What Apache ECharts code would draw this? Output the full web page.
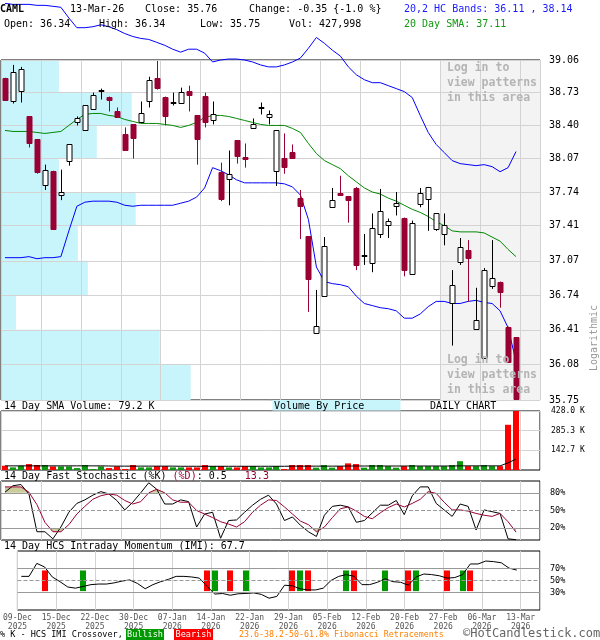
<!DOCTYPE html>
<html><head><meta charset="utf-8">
<script src="https://cdn.jsdelivr.net/npm/echarts@6/dist/echarts.min.js"></script>
<style>html,body{margin:0;padding:0;background:#fff}#c{width:600px;height:640px}</style>
</head><body><div id="c"></div>
<script>
// ---------------- DATA ----------------
const dates = ['2025-12-09','2025-12-10','2025-12-11','2025-12-12','2025-12-15','2025-12-16','2025-12-17','2025-12-18','2025-12-19',
'2025-12-22','2025-12-23','2025-12-24','2025-12-26','2025-12-29','2025-12-30','2025-12-31','2026-01-02','2026-01-05','2026-01-06',
'2026-01-07','2026-01-08','2026-01-09','2026-01-12','2026-01-13','2026-01-14','2026-01-15','2026-01-16','2026-01-20','2026-01-21',
'2026-01-22','2026-01-23','2026-01-26','2026-01-27','2026-01-28','2026-01-29','2026-01-30','2026-02-02','2026-02-03','2026-02-04',
'2026-02-05','2026-02-06','2026-02-09','2026-02-10','2026-02-11','2026-02-12','2026-02-13','2026-02-17','2026-02-18','2026-02-19',
'2026-02-20','2026-02-23','2026-02-24','2026-02-25','2026-02-26','2026-02-27','2026-03-02','2026-03-03','2026-03-04','2026-03-05',
'2026-03-06','2026-03-09','2026-03-10','2026-03-11','2026-03-12','2026-03-13'];
const openP  = [38.88,38.645,38.75,38.49,38.26,37.805,37.95,37.71,38.05,38.43,38.35,38.56,38.76,38.69,38.54,38.31,38.41,38.43,38.65,38.88,38.69,38.63,38.63,38.75,38.50,38.70,38.45,37.94,37.87,38.25,38.09,38.37,38.57,38.48,37.95,38.08,38.14,37.68,37.31,36.38,36.73,37.59,37.73,37.70,37.78,37.12,37.05,37.33,37.42,37.60,37.49,36.94,37.62,37.67,37.38,37.33,36.66,37.06,37.17,36.42,36.14,36.83,36.87,36.44,36.34];
const closeP = [38.66,38.94,38.97,38.22,37.94,37.96,37.38,37.74,38.21,38.47,38.60,38.71,38.76,38.66,38.48,38.16,38.27,38.52,38.86,38.78,38.49,38.64,38.74,38.71,38.26,38.43,38.51,37.67,37.92,38.10,38.07,38.41,38.58,38.51,38.35,37.99,38.08,37.60,36.89,36.45,37.21,37.66,37.71,37.66,37.03,37.13,37.39,37.55,37.46,37.63,36.98,37.44,37.73,37.79,37.53,37.42,36.84,37.20,37.10,36.50,36.98,36.90,36.77,36.11,35.76];
const lowP   = [38.66,38.62,38.63,38.18,37.92,37.76,37.38,37.66,38.00,38.40,38.35,38.56,38.66,38.54,38.48,38.16,38.07,38.43,38.58,38.76,38.40,38.60,38.63,38.54,38.01,38.38,38.41,37.65,37.61,38.02,37.98,38.37,38.51,38.41,37.80,37.92,38.07,37.28,36.58,36.38,36.73,37.59,37.71,37.44,36.98,37.03,36.96,37.29,37.29,37.51,36.92,36.94,37.59,37.36,37.36,37.22,36.26,37.03,36.68,36.42,36.14,36.80,36.62,36.10,35.75];
const highP  = [38.88,39.01,38.99,38.49,38.26,38.01,37.95,37.96,38.21,38.49,38.60,38.73,38.77,38.69,38.58,38.38,38.41,38.64,38.89,39.05,38.69,38.73,38.78,38.80,38.50,38.73,38.64,38.03,38.15,38.25,38.22,38.47,38.63,38.55,38.35,38.32,38.21,37.76,37.31,36.79,37.30,37.78,37.90,37.70,37.79,37.33,37.53,37.77,37.48,37.74,37.49,37.46,37.78,37.79,37.53,37.53,36.98,37.29,37.27,36.81,37.00,37.27,36.87,36.44,36.34];
const sma20 = [38.35,38.34,38.34,38.34,38.33,38.32,38.33,38.34,38.40,38.46,38.51,38.52,38.52,38.50,38.49,38.46,38.44,38.42,38.42,38.42,38.41,38.40,38.38,38.40,38.43,38.48,38.50,38.50,38.49,38.47,38.45,38.43,38.41,38.40,38.40,38.40,38.37,38.33,38.22,38.12,38.05,38.01,37.97,37.90,37.84,37.78,37.74,37.72,37.68,37.65,37.61,37.57,37.54,37.50,37.45,37.41,37.36,37.35,37.35,37.35,37.34,37.30,37.26,37.18,37.11];
const upperBand = [39.64,39.63,39.63,39.63,39.62,39.62,39.61,39.60,39.49,39.39,39.39,39.40,39.42,39.40,39.37,39.33,39.30,39.28,39.27,39.24,39.21,39.17,39.14,39.17,39.17,39.13,39.04,39.06,39.07,39.07,39.06,39.04,39.01,38.99,38.99,39.01,39.04,39.08,39.18,39.29,39.23,39.16,39.10,38.99,38.91,38.86,38.83,38.83,38.80,38.77,38.74,38.68,38.50,38.33,38.21,38.13,38.05,38.02,38.01,38.00,38.01,37.99,37.94,37.98,38.14];
const lowerBand = [37.10,37.10,37.10,37.11,37.09,37.10,37.10,37.11,37.36,37.60,37.64,37.65,37.65,37.65,37.64,37.61,37.60,37.61,37.61,37.61,37.61,37.61,37.63,37.65,37.69,37.78,37.98,37.95,37.91,37.86,37.83,37.83,37.83,37.83,37.83,37.82,37.79,37.71,37.47,37.01,36.87,36.85,36.84,36.82,36.73,36.66,36.64,36.62,36.61,36.59,36.52,36.52,36.56,36.63,36.68,36.68,36.66,36.66,36.68,36.69,36.67,36.66,36.59,36.43,36.11];
const priceTicks = [35.75,36.08,36.41,36.74,37.07,37.41,37.74,38.07,38.40,38.73,39.06];
// volume by price, bands from top (39.06-38.73) to bottom (36.08-35.75)
const vbpVolume = [58,131,96,58,135,77,87,15,159,190];
// volume, thousands of shares
const volumeK = [31,19,31,43,36,36,26,26,26,14,36,7,26,14,26,7,36,19,19,28,28,19,19,19,19,36,28,28,19,19,28,28,19,19,28,7,36,36,36,17,36,17,28,48,43,17,36,36,28,17,28,36,28,28,28,28,36,64,28,28,36,28,28,328,427.998];
const volSma14K = [30,30,30,30,30,30,30,30,30,30,30,30,30,29,28,28,28,28,28,28,28,28,27,27,27,27,27,27,27,27,27,27,27,27,27,27,28,28,28,28,28,28,28,29,29,29,29,29,29,29,29,29,29,29,29,29,29,30,30,30,30,30,30,52,79.2];
const volTicks = [142.7,285.3,428.0];
const stochK = [81,92,94,78,14,14,2,22,47,62,68,76,82,78,67,51,64,80,97,86,61,61,68,65,22,44,47,3,33,34,47,59,69,76,61,33,39,25,14,6,42,57,59,56,30,33,46,59,59,67,43,75,90,90,62,51,40,61,57,17,51,48,45,2,0.5];
const stochD = [90,90,90,81,60,30,14,14,26,44,57,69,75,78,76,67,61,65,80,86,80,68,64,64,50,44,38,31,27,22,31,47,59,68,67,56,44,32,26,14,22,38,53,56,49,40,36,46,55,61,56,62,69,82,79,64,51,51,49,45,42,40,45,31,13.3];
const imi = [57,57,79,73,56,48,39,37,40,43,44,44,46,49,51,45,36,43,48,52,57,57,56,54,40,27,28,25,27.5,28,29,26.5,20,23,42,41,36,34,34,37,50,57,60,57,43,43,47,53,48,47,42,56,61,60,58,54,55,60,78,78,83,82,80,71,67.7];
const bullishIdx = [8,25,29,36,42,47,51,57];
const bearishIdx = [3,24,27,35,37,43,50,55,58];
const dateTicks = ['09-Dec\n2025','15-Dec\n2025','22-Dec\n2025','30-Dec\n2025','07-Jan\n2026','14-Jan\n2026','22-Jan\n2026','29-Jan\n2026','05-Feb\n2026','12-Feb\n2026','20-Feb\n2026','27-Feb\n2026','06-Mar\n2026','13-Mar\n2026'];
const loginZoneStart = 55;
const stochLevels = [20, 80];

// ---------------- CHART ----------------
const FONT = '"DejaVu Sans Mono", "Liberation Mono", monospace';
const L = Math.log;
const X_MAX = 67.5;
const xs = dates.map((_, i) => i + 0.5);
const RED = '#990033', VRED = '#ff0000', VGREEN = '#0f990f';
const GRIDC = '#d3d3d3';

const chart = echarts.init(document.getElementById('c'), null, {renderer: 'canvas'});

function xAx(gi, extra) {
  return Object.assign({
    gridIndex: gi, type: 'value', min: 0, max: X_MAX, interval: 5, z: 2,
    axisLine: {show: false}, axisTick: {show: false}, axisLabel: {show: false},
    splitLine: {show: true, lineStyle: {color: GRIDC, width: 1}}
  }, extra || {});
}
const lblStyle = {fontFamily: FONT, color: '#000'};

// olive fill between %D and the 80/20 levels where %D goes beyond them
function extremeRegions(vals, level, above) {
  const out = []; let cur = null;
  const beyond = v => above ? v > level : v < level;
  for (let i = 0; i < vals.length; i++) {
    const b = beyond(vals[i]);
    if (b && !cur) {
      cur = [];
      if (i > 0) { const t = (level - vals[i - 1]) / (vals[i] - vals[i - 1]); cur.push([xs[i - 1] + t, level]); }
      else cur.push([xs[i], level]);
    }
    if (b) cur.push([xs[i], vals[i]]);
    if (!b && cur) {
      const t = (level - vals[i - 1]) / (vals[i] - vals[i - 1]); cur.push([xs[i - 1] + t, level]);
      out.push(cur); cur = null;
    }
  }
  if (cur) { cur.push([xs[vals.length - 1], level]); out.push(cur); }
  return out;
}
const stochFills = extremeRegions(stochD, stochLevels[1], true).concat(extremeRegions(stochD, stochLevels[0], false));

const option = {
  animation: false,
  grid: [
    {left: 1, top: 60, width: 539, height: 340, show: true, borderColor: '#000', borderWidth: 1},
    {left: 1, top: 411, width: 539, height: 59, show: true, borderColor: '#000', borderWidth: 1},
    {left: 1, top: 481, width: 539, height: 59, show: true, borderColor: '#000', borderWidth: 1},
    {left: 1, top: 551, width: 539, height: 59, show: true, borderColor: '#000', borderWidth: 1}
  ],
  xAxis: [
    xAx(0), xAx(1), xAx(2),
    xAx(3, {axisLabel: {show: true, margin: 3, fontSize: 8, lineHeight: 9, color: '#555', fontFamily: FONT,
      formatter: v => dateTicks[Math.round(v / 5)] || ''}}),
    {gridIndex: 0, type: 'value', min: 0, max: 540, show: false}
  ],
  yAxis: [
    {gridIndex: 0, type: 'value', min: L(35.75), max: L(39.06), position: 'right', z: 2,
      axisLine: {show: false}, axisTick: {show: false, customValues: priceTicks.map(L)},
      axisLabel: Object.assign({customValues: priceTicks.map(L), margin: 9, fontSize: 10, padding: [0, 0, 6, 0],
        formatter: v => { const p = priceTicks.find(t => Math.abs(L(t) - v) < 1e-6); return p == null ? '' : p.toFixed(2); }}, lblStyle),
      splitLine: {show: true, lineStyle: {color: GRIDC, width: 1}}},
    {gridIndex: 1, type: 'value', min: 0, max: 428, position: 'right', z: 2,
      axisLine: {show: false}, axisTick: {show: false, customValues: volTicks},
      axisLabel: Object.assign({customValues: volTicks, margin: 11, fontSize: 8,
        formatter: v => v.toFixed(1) + ' K'}, lblStyle),
      splitLine: {show: true, lineStyle: {color: GRIDC, width: 1}}},
    {gridIndex: 2, type: 'value', min: 0, max: 100, position: 'right',
      axisLine: {show: false}, axisTick: {show: false},
      axisLabel: Object.assign({customValues: [20, 50, 80], margin: 10, fontSize: 8.5, formatter: v => v + '%'}, lblStyle),
      splitLine: {show: false}},
    {gridIndex: 3, type: 'value', min: 0, max: 100, position: 'right',
      axisLine: {show: false}, axisTick: {show: false},
      axisLabel: Object.assign({customValues: [30, 50, 70], margin: 10, fontSize: 8.5, formatter: v => v + '%'}, lblStyle),
      splitLine: {show: false}}
  ],
  series: [
    // volume by price
    {type: 'custom', xAxisIndex: 4, yAxisIndex: 0, z: 1, silent: true,
      data: vbpVolume.map((v, k) => [v, L(priceTicks[10 - k]), L(priceTicks[9 - k])]),
      encode: {x: 0, y: 1},
      renderItem: (params, api) => {
        const a = api.coord([0, api.value(1)]), b = api.coord([api.value(0), api.value(2)]);
        return {type: 'rect', shape: {x: a[0], y: a[1], width: b[0] - a[0], height: b[1] - a[1]}, style: {fill: '#c8f4fc'}};
      }},
    // login shaded zone
    {type: 'custom', xAxisIndex: 0, yAxisIndex: 0, z: 1, silent: true,
      data: [[loginZoneStart, X_MAX]], encode: {x: 0},
      renderItem: (params, api) => {
        const a = api.coord([api.value(0), L(39.06)]), b = api.coord([api.value(1), L(35.75)]);
        return {type: 'group', children: [
          {type: 'rect', shape: {x: a[0], y: a[1], width: b[0] - a[0], height: b[1] - a[1]}, style: {fill: '#f3f3f3'}},
          {type: 'line', shape: {x1: Math.round(a[0]) + 0.5, y1: a[1], x2: Math.round(a[0]) + 0.5, y2: b[1]}, style: {stroke: '#999', lineWidth: 1}}
        ]};
      }},
    {type: 'line', xAxisIndex: 0, yAxisIndex: 0, z: 3, symbol: 'none', clip: false, silent: true,
      data: xs.map((x, i) => [x, L(upperBand[i])]), lineStyle: {color: '#0000ff', width: 1}},
    {type: 'line', xAxisIndex: 0, yAxisIndex: 0, z: 3, symbol: 'none', clip: false, silent: true,
      data: xs.map((x, i) => [x, L(lowerBand[i])]), lineStyle: {color: '#0000ff', width: 1}},
    {type: 'line', xAxisIndex: 0, yAxisIndex: 0, z: 3, symbol: 'none', silent: true,
      data: xs.map((x, i) => [x, L(sma20[i])]), lineStyle: {color: '#008800', width: 1}},
    // candles
    {type: 'custom', xAxisIndex: 0, yAxisIndex: 0, z: 4, silent: true,
      data: xs.map((x, i) => [x, L(openP[i]), L(closeP[i]), L(lowP[i]), L(highP[i])]),
      encode: {x: 0, y: [1, 2, 3, 4]},
      renderItem: (params, api) => {
        const x = api.value(0);
        const o = api.coord([x, api.value(1)]), c = api.coord([x, api.value(2)]);
        const lo = api.coord([x, api.value(3)]), hi = api.coord([x, api.value(4)]);
        const up = api.value(2) >= api.value(1);
        const cx = Math.round(o[0]) + 0.5;
        const top = Math.round(Math.min(o[1], c[1])) + 0.5, bot = Math.round(Math.max(o[1], c[1])) + 0.5;
        const h = Math.max(bot - top, 1);
        const col = up ? '#000' : RED;
        return {type: 'group', children: [
          {type: 'line', shape: {x1: cx, y1: hi[1], x2: cx, y2: lo[1]}, style: {stroke: col, lineWidth: 1}},
          {type: 'rect', shape: {x: cx - 2.5, y: top, width: 5, height: h},
            style: up ? {fill: '#fff', stroke: '#000', lineWidth: 1} : {fill: RED, stroke: RED, lineWidth: 1}}
        ]};
      }},
    // volume
    {type: 'custom', xAxisIndex: 1, yAxisIndex: 1, z: 4, silent: true,
      data: xs.map((x, i) => [x, volumeK[i], closeP[i] >= openP[i] ? 1 : 0]),
      encode: {x: 0, y: 1},
      renderItem: (params, api) => {
        const a = api.coord([api.value(0), api.value(1)]), b = api.coord([api.value(0), 0]);
        return {type: 'rect', shape: {x: Math.round(a[0]) - 3, y: a[1], width: 6, height: b[1] - a[1]},
          style: {fill: api.value(2) ? VGREEN : VRED}};
      }},
    {type: 'line', xAxisIndex: 1, yAxisIndex: 1, z: 5, symbol: 'none', silent: true,
      data: xs.map((x, i) => [x, volSma14K[i]]), lineStyle: {color: '#000', width: 1}},
    // stochastic extreme fills
    {type: 'custom', xAxisIndex: 2, yAxisIndex: 2, z: 3, silent: true, clip: false,
      data: stochFills.map(r => [r[0][0], r[0][1]]), encode: {x: 0, y: 1},
      renderItem: (params, api) => {
        const pts = stochFills[params.dataIndex].map(p => api.coord(p));
        return {type: 'polygon', shape: {points: pts}, style: {fill: '#cbcb9c'}};
      }},
    // stochastic
    {type: 'line', xAxisIndex: 2, yAxisIndex: 2, z: 4, symbol: 'none', silent: true,
      data: xs.map((x, i) => [x, stochK[i]]), lineStyle: {color: '#000', width: 1},
      markLine: {symbol: 'none', silent: true, label: {show: false}, animation: false,
        data: [{yAxis: 80, lineStyle: {color: '#999', type: 'solid', width: 1}},
               {yAxis: 50, lineStyle: {color: '#999', type: 'dashed', width: 1}},
               {yAxis: 20, lineStyle: {color: '#999', type: 'solid', width: 1}}]}},
    {type: 'line', xAxisIndex: 2, yAxisIndex: 2, z: 4, symbol: 'none', silent: true,
      data: xs.map((x, i) => [x, stochD[i]]), lineStyle: {color: RED, width: 1}},
    // IMI
    {type: 'custom', xAxisIndex: 3, yAxisIndex: 3, z: 3, silent: true,
      data: bullishIdx.map(i => [xs[i], 32, 67, 1]).concat(bearishIdx.map(i => [xs[i], 32, 67, 0])),
      encode: {x: 0, y: [1, 2]},
      renderItem: (params, api) => {
        const a = api.coord([api.value(0), api.value(2)]), b = api.coord([api.value(0), api.value(1)]);
        return {type: 'rect', shape: {x: Math.round(a[0]) - 3, y: a[1], width: 6, height: b[1] - a[1]},
          style: {fill: api.value(3) ? '#009900' : '#ff0000'}};
      }},
    {type: 'line', xAxisIndex: 3, yAxisIndex: 3, z: 4, symbol: 'none', silent: true,
      data: xs.map((x, i) => [x, imi[i]]), lineStyle: {color: '#000', width: 1},
      markLine: {symbol: 'none', silent: true, label: {show: false}, animation: false,
        data: [{yAxis: 70, lineStyle: {color: '#999', type: 'solid', width: 1}},
               {yAxis: 50, lineStyle: {color: '#999', type: 'dashed', width: 1}},
               {yAxis: 30, lineStyle: {color: '#999', type: 'solid', width: 1}}]}}
  ],
  graphic: []
};

function txt(x, y, text, opt) {
  opt = opt || {};
  return {type: 'text', x: x, y: y, z: 10, rotation: opt.rotation || 0, silent: true,
    style: Object.assign({text: text, fill: opt.fill || '#000', font: (opt.weight || 'normal') + ' ' + (opt.size || 10) + 'px ' + FONT,
      verticalAlign: 'middle', align: opt.align || 'left'}, opt.style || {})};
}
const g = option.graphic;
g.push(txt(0, 9, 'CAML', {weight: 'bold'}));
g.push(txt(70, 9, '13-Mar-26'));
g.push(txt(145, 9, 'Close: 35.76'));
g.push(txt(249, 9, 'Change: -0.35 {-1.0 %}'));
g.push(txt(404, 9, '20,2 HC Bands: 36.11 , 38.14', {fill: '#1a1aff'}));
g.push(txt(4, 24, 'Open: 36.34'));
g.push(txt(99, 24, 'High: 36.34'));
g.push(txt(200, 24, 'Low: 35.75'));
g.push(txt(289, 24, 'Vol: 427,998'));
g.push(txt(404, 24, '20 Day SMA: 37.11', {fill: '#119911'}));
['Log in to', 'view patterns', 'in this area'].forEach((s, k) => {
  g.push(txt(447, 68 + 15 * k, s, {weight: 'bold', size: 11.5, fill: '#b4b4b4'}));
  g.push(txt(447, 360 + 15 * k, s, {weight: 'bold', size: 11.5, fill: '#b4b4b4'}));
});
g.push(txt(594, 338, 'Logarithmic', {rotation: Math.PI / 2, align: 'center', fill: '#999'}));
g.push({type: 'rect', z: 9, silent: true, shape: {x: 272.5, y: 400, width: 128, height: 10.5}, style: {fill: '#c8f4fc'}});
g.push(txt(4, 406, '14 Day SMA Volume: 79.2 K'));
g.push(txt(274, 406, 'Volume By Price'));
g.push(txt(430, 406, 'DAILY CHART'));
g.push({type: 'text', x: 4, y: 476, z: 10, silent: true, style: {
  text: '{a|14 Day Fast Stochastic (%K) }{b|(%D)}{a|: 0.5   }{b|13.3}', verticalAlign: 'middle',
  rich: {a: {fill: '#000', font: '10px ' + FONT}, b: {fill: RED, font: '10px ' + FONT}}}});
g.push(txt(4, 546, '14 Day HCS Intraday Momentum (IMI): 67.7'));
g.push(txt(0, 635, '% K - HCS IMI Crossover,', {size: 8.5}));
g.push({type: 'rect', z: 9, silent: true, shape: {x: 126, y: 629, width: 38, height: 11}, style: {fill: '#009900'}});
g.push(txt(145, 635, 'Bullish', {size: 8.5, fill: '#fff', align: 'center'}));
g.push({type: 'rect', z: 9, silent: true, shape: {x: 174, y: 629, width: 39, height: 11}, style: {fill: '#ff0000'}});
g.push(txt(193.5, 635, 'Bearish', {size: 8.5, fill: '#fff', align: 'center'}));
g.push(txt(239, 635, '23.6-38.2-50-61.8% Fibonacci Retracements', {size: 8.3, fill: '#ff8000'}));
g.push(txt(463, 634, '\u00A9HotCandlestick.com', {size: 12, fill: '#666'}));

chart.setOption(option);
</script></body></html>
